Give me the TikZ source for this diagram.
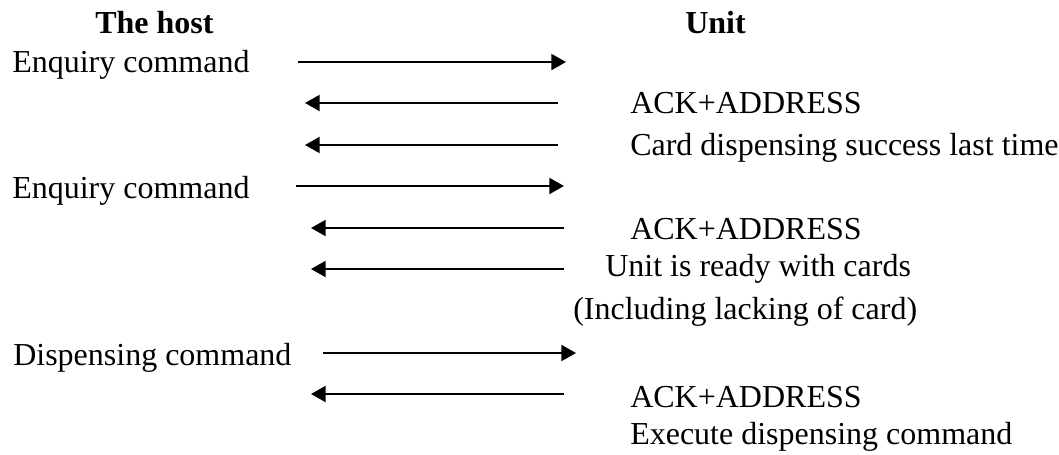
\documentclass[tikz,border=0pt]{standalone}
\usepackage{fontspec}
\setmainfont{Liberation Serif}
\usetikzlibrary{arrows.meta}
\tikzset{
  lbl/.style={anchor=base west, inner sep=0pt, font=\fontsize{24}{28}\selectfont},
  hdr/.style={lbl, font=\fontsize{24}{28}\selectfont\bfseries},
  msg/.style={line width=1.5pt, -{Triangle[length=11pt,width=12pt]}}
}
\begin{document}
\begin{tikzpicture}[x=0.75pt,y=-0.75pt]
\useasboundingbox (0,0) rectangle (1059,454);
% headers
\node[hdr] (host) at (95,33) {The host};
\node[hdr] (unit) at (685,33) {Unit};
% host side
\node[lbl] (h1) at (12,72) {Enquiry command};
\node[lbl] (h2) at (12,198) {Enquiry command};
\node[lbl] (h3) at (13,365) {Dispensing command};
% unit side
\node[lbl] (u1) at (630,113) {ACK+ADDRESS};
\node[lbl] (u2) at (630,155) {Card dispensing success last time};
\node[lbl] (u3) at (630,239) {ACK+ADDRESS};
\node[lbl] (u4) at (605,276) {Unit is ready with cards};
\node[lbl] (u5) at (573,319) {(Including lacking of card)};
\node[lbl] (u6) at (630,407) {ACK+ADDRESS};
\node[lbl] (u7) at (630,444) {Execute dispensing command};
% arrow endpoints
\coordinate (a1s) at (298,62);  \coordinate (a1e) at (566,62);
\coordinate (a2s) at (558,103); \coordinate (a2e) at (305,103);
\coordinate (a3s) at (558,145); \coordinate (a3e) at (305,145);
\coordinate (a4s) at (296,186); \coordinate (a4e) at (564,186);
\coordinate (a5s) at (564,228); \coordinate (a5e) at (311,228);
\coordinate (a6s) at (564,269); \coordinate (a6e) at (311,269);
\coordinate (a7s) at (323,353); \coordinate (a7e) at (576,353);
\coordinate (a8s) at (564,394); \coordinate (a8e) at (311,394);
\draw[msg] (a1s) -- (a1e);
\draw[msg] (a2s) -- (a2e);
\draw[msg] (a3s) -- (a3e);
\draw[msg] (a4s) -- (a4e);
\draw[msg] (a5s) -- (a5e);
\draw[msg] (a6s) -- (a6e);
\draw[msg] (a7s) -- (a7e);
\draw[msg] (a8s) -- (a8e);
\end{tikzpicture}
\end{document}
